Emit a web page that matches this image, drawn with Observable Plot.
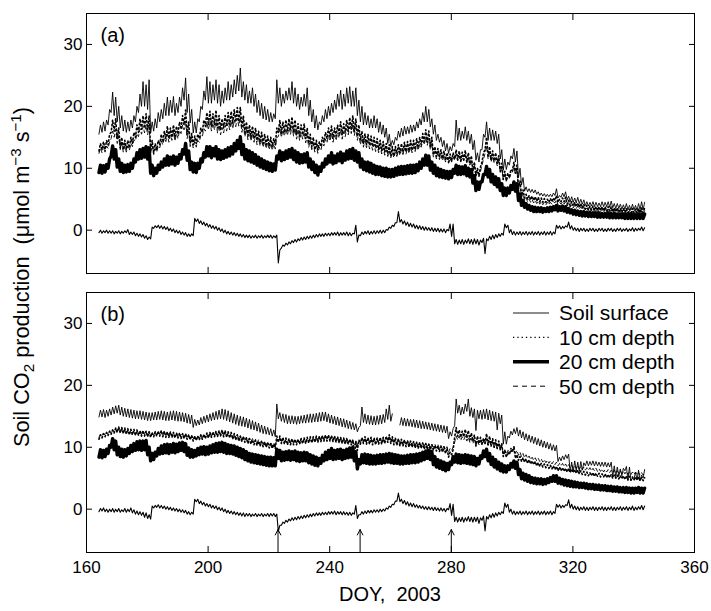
<!DOCTYPE html>
<html><head><meta charset="utf-8">
<script src="https://cdn.jsdelivr.net/npm/d3@7"></script>
<script src="https://cdn.jsdelivr.net/npm/@observablehq/plot@0.6"></script>
<style>
body{margin:0;background:#fff;}
#wrap{position:relative;width:711px;height:611px;overflow:hidden;font-family:"Liberation Sans",Arial,sans-serif;color:#000;background:#fff;}
#pa{position:absolute;left:0;top:0}
#pb{position:absolute;left:0;top:282px}
#ylab{position:absolute;left:22px;top:277px;transform:translate(-50%,-50%) rotate(-90deg);white-space:nowrap;font-size:21.7px;line-height:1;}
#ylab sub,#ylab sup{font-size:70%;line-height:0}
#overlay{position:absolute;left:0;top:0;pointer-events:none}
</style></head><body>
<div id="wrap">
 <div id="pa"></div><div id="pb"></div>
 <div id="ylab">Soil CO<sub>2</sub> production&nbsp; (μmol m<sup>−3</sup> s<sup>−1</sup>)</div>
 <svg id="overlay" width="711" height="611"></svg>
</div>
<script>
// ---------- tick values ----------
const xTicks = [160, 200, 240, 280, 320, 360];
const yTicks = [0, 10, 20, 30];
const legendLabels = ["Soil surface", "10 cm depth", "20 cm depth", "50 cm depth"];
const panelTags = ["(a)", "(b)"];
const arrowDays = [223, 250, 280];
const xTitle = "DOY,\u00a0 2003";
// days 164..343; "Day" values are the afternoon peak, "Night" values the early-morning value
const firstDay = 164, nDays = 180;

// ---------- panel (a) ----------
const aSurfDay = [
17.0,17.5,17.8,19.5,22.3,21.5,20.0,18.5,17.8,17.5,
17.8,18.5,20.0,22.0,24.0,23.5,24.3,17.5,18.0,19.0,
19.5,20.5,21.5,21.0,21.6,20.5,21.5,23.0,24.6,22.0,
19.5,17.5,18.0,20.0,22.5,24.8,24.0,23.5,24.3,23.5,
22.5,23.0,24.0,23.5,24.3,25.0,26.2,24.0,23.5,22.5,
23.0,22.0,21.0,20.5,20.0,19.5,19.0,18.8,24.3,23.0,
22.0,22.5,23.0,24.0,23.0,22.0,21.5,22.0,23.0,21.0,
19.5,18.5,17.5,18.5,19.5,20.0,20.5,21.0,22.0,22.6,
22.0,23.0,23.2,22.5,23.0,21.0,20.0,19.0,18.5,18.0,
18.5,18.0,17.5,17.0,16.5,15.5,14.5,15.0,16.0,16.5,
16.8,16.7,17.0,17.0,17.5,18.0,19.0,20.0,19.5,18.0,
17.0,15.5,15.0,14.5,14.0,13.5,14.0,17.8,16.5,16.0,
16.7,16.0,15.5,14.5,12.5,13.0,15.5,17.5,16.5,16.2,
16.0,15.5,13.0,11.5,11.0,12.0,13.2,12.8,10.0,8.5,
7.0,6.7,6.6,6.5,6.2,6.0,5.9,5.8,5.8,6.0,
6.7,5.6,6.0,6.2,5.5,5.4,5.2,5.3,5.0,4.9,
4.6,4.5,4.6,4.5,4.4,4.6,4.5,4.6,4.7,4.3,
4.3,4.2,4.1,4.3,4.0,4.2,4.0,4.3,4.6,4.5];
const aSurfNight = [
15.5,15.8,16.0,17.0,19.0,18.5,17.5,16.5,16.0,15.8,
16.0,16.5,17.5,19.0,20.0,20.0,19.5,15.7,16.0,16.5,
17.5,18.0,18.5,18.5,19.0,18.5,19.0,20.0,21.0,19.0,
17.3,15.7,15.7,17.5,19.5,21.0,20.5,20.5,21.0,20.5,
20.0,20.5,21.0,21.0,21.5,22.0,22.5,21.5,21.0,20.5,
20.5,20.0,19.0,18.5,18.0,17.8,17.5,17.5,18.0,20.5,
20.0,20.5,21.0,21.0,20.5,20.0,19.5,20.0,20.0,18.5,
17.5,16.5,16.2,17.0,17.5,18.0,18.5,19.0,19.5,20.0,
19.5,20.0,20.5,20.0,20.0,18.5,17.5,17.0,17.0,16.5,
16.5,16.5,15.8,15.5,15.0,14.0,13.5,13.8,14.5,15.0,
15.2,15.5,15.6,15.8,16.0,16.5,17.0,17.5,17.5,16.7,
15.5,14.5,14.2,13.5,12.8,12.4,12.8,13.5,14.5,14.5,
14.8,14.5,14.0,13.0,11.3,11.0,13.0,15.0,14.5,14.5,
14.5,14.0,11.5,9.7,9.8,10.5,11.5,11.0,8.5,7.3,
6.3,6.2,6.1,6.0,5.8,5.6,5.5,5.4,5.4,5.4,
5.6,5.2,5.3,5.4,4.9,4.6,4.5,4.4,4.3,4.2,
4.0,3.9,3.9,3.8,3.8,3.8,3.8,3.8,3.7,3.6,
3.5,3.5,3.4,3.4,3.3,3.3,3.3,3.2,3.3,3.3];
const a10Day = [
14.0,14.3,14.5,15.5,17.8,18.0,16.5,15.0,14.5,14.5,
15.0,15.8,17.0,18.0,18.5,18.8,18.5,14.5,14.0,14.5,
15.5,16.0,16.8,16.5,17.0,16.8,17.5,18.5,19.4,17.5,
15.6,15.2,15.5,16.5,17.8,19.0,19.2,18.8,19.4,18.5,
18.0,18.5,19.0,19.2,19.5,19.8,19.9,18.5,17.5,17.0,
16.8,16.5,16.0,15.8,15.5,15.2,15.0,14.8,16.5,17.8,
17.5,17.8,18.0,18.3,17.8,17.2,17.0,17.2,16.5,15.5,
15.0,14.5,14.3,15.0,15.8,16.5,16.8,16.5,17.0,17.5,
17.2,17.8,18.2,18.5,18.0,17.0,16.0,15.6,15.5,15.2,
15.0,14.8,14.5,14.3,14.0,13.8,13.5,13.5,13.8,14.0,
14.2,14.3,14.5,14.5,14.8,15.0,15.6,16.2,16.0,15.0,
13.5,13.2,13.0,12.8,12.5,12.3,12.5,13.0,12.8,12.6,
12.9,12.5,12.0,11.0,10.0,10.2,12.5,15.0,13.5,12.8,
12.5,12.0,10.8,9.5,9.2,9.8,11.0,10.5,8.0,6.5,
5.8,5.6,5.5,5.4,5.3,5.2,5.1,5.0,5.1,5.2,
5.6,5.0,5.2,5.3,4.8,4.6,4.5,4.4,4.3,4.2,
4.0,3.9,3.9,3.8,3.8,3.8,3.8,3.8,3.8,3.6,
3.6,3.5,3.5,3.5,3.4,3.5,3.4,3.5,3.6,3.6];
const a10Night = [
12.8,13.0,13.0,13.8,15.8,16.0,14.8,13.3,13.0,13.0,
13.3,14.0,15.0,15.8,16.3,16.5,16.2,12.8,12.5,13.0,
13.8,14.2,14.8,14.8,15.0,15.0,15.5,16.3,17.0,15.5,
14.0,13.8,14.0,14.8,15.8,16.8,17.0,16.8,17.0,16.5,
16.2,16.5,16.8,17.0,17.2,17.5,17.5,16.5,15.8,15.3,
15.0,14.8,14.5,14.2,14.0,13.8,13.6,13.5,13.8,15.8,
15.6,15.8,16.0,16.2,15.8,15.4,15.2,15.4,14.8,14.0,
13.5,13.0,13.0,13.5,14.2,14.8,15.0,14.8,15.2,15.6,
15.4,15.8,16.0,16.2,16.0,15.2,14.5,14.0,13.8,13.7,
13.5,13.3,13.0,12.8,12.6,12.3,12.0,12.0,12.3,12.5,
12.6,12.7,12.8,12.9,13.0,13.3,13.8,14.3,14.2,13.5,
12.2,11.9,11.8,11.6,11.3,11.0,11.2,11.5,11.4,11.2,
11.4,11.0,10.7,9.6,8.8,8.8,11.0,13.0,12.0,11.4,
11.2,10.8,9.5,8.2,8.0,8.5,9.6,9.2,6.8,5.6,
5.2,5.0,4.9,4.8,4.7,4.6,4.5,4.5,4.5,4.6,
4.8,4.5,4.6,4.6,4.2,4.0,3.9,3.8,3.7,3.6,
3.4,3.3,3.3,3.2,3.2,3.2,3.1,3.1,3.1,3.0,
3.0,2.9,2.9,2.9,2.8,2.8,2.8,2.8,2.8,2.8];
const a20Day = [
10.5,10.4,10.6,11.5,13.6,13.0,11.5,10.8,10.5,10.6,
10.8,11.5,12.5,13.0,13.2,13.5,13.3,10.5,10.0,10.5,
11.0,11.5,12.0,11.8,12.0,11.8,12.2,13.0,14.0,12.8,
11.0,10.8,10.8,11.5,12.5,13.5,13.5,13.2,13.5,13.0,
12.8,13.0,13.3,13.5,14.0,14.5,15.1,13.8,13.0,12.8,
12.5,12.2,11.8,11.5,11.2,11.0,10.8,10.7,12.0,12.8,
12.5,12.8,13.0,13.2,12.8,12.5,12.2,12.3,12.5,11.5,
11.0,10.5,10.2,10.8,11.5,12.0,12.5,12.0,12.3,12.6,
12.3,12.8,13.0,13.2,12.8,12.5,11.5,11.0,11.0,10.8,
10.5,10.3,10.2,10.0,10.0,9.8,9.8,10.0,10.2,10.3,
10.3,10.4,10.5,10.5,10.6,11.0,11.5,12.1,12.0,11.0,
10.5,10.0,9.8,9.6,9.5,9.5,9.8,10.5,10.3,10.2,
10.4,10.0,9.8,8.8,7.8,7.8,9.0,10.3,9.8,9.0,
8.6,8.3,7.5,6.8,6.8,7.2,7.8,7.5,5.8,4.8,
4.3,4.0,3.8,3.7,3.6,3.6,3.5,3.6,3.7,3.8,
4.0,3.8,3.9,3.8,3.5,3.3,3.2,3.1,3.0,3.0,
2.9,2.9,2.8,2.8,2.8,2.7,2.7,2.8,2.7,2.7,
2.6,2.6,2.6,2.6,2.6,2.6,2.5,2.6,2.6,2.6];
const a20Night = [
9.3,9.2,9.4,10.0,12.0,11.5,10.2,9.5,9.3,9.4,
9.5,10.0,11.0,11.5,11.6,11.8,11.5,9.2,8.8,9.2,
9.8,10.2,10.5,10.5,10.7,10.5,10.8,11.5,12.3,11.3,
9.8,9.4,9.3,10.0,11.0,11.8,12.0,11.7,12.0,11.5,
11.4,11.6,11.8,12.0,12.3,12.8,13.2,12.2,11.5,11.2,
11.0,10.8,10.5,10.2,10.0,9.8,9.6,9.5,9.7,11.5,
11.2,11.4,11.6,11.8,11.4,11.0,10.8,10.9,11.0,10.2,
9.8,9.3,8.9,9.5,10.2,10.7,11.0,10.7,10.9,11.2,
10.9,11.3,11.5,11.6,11.3,11.0,10.2,9.8,9.6,9.4,
9.2,9.0,9.0,8.8,8.7,8.6,8.6,8.7,8.9,9.0,
9.0,9.1,9.2,9.2,9.3,9.6,10.0,10.5,10.5,9.7,
9.2,8.8,8.6,8.5,8.4,8.3,8.5,9.2,9.0,9.0,
9.1,8.8,8.6,7.6,6.4,6.6,7.8,9.0,8.6,7.8,
7.4,7.0,6.4,5.6,5.6,6.0,6.6,6.3,4.8,4.0,
3.7,3.4,3.2,3.0,3.0,3.0,2.9,3.0,3.0,3.1,
3.3,3.1,3.2,3.1,2.9,2.8,2.6,2.5,2.4,2.3,
2.3,2.2,2.2,2.2,2.1,2.1,2.1,2.1,2.0,2.0,
2.0,2.0,2.0,1.9,1.9,1.9,1.9,1.9,1.9,1.9];
const a50Day = [
13.3,13.5,13.6,14.3,16.0,16.3,15.2,14.0,13.6,13.6,
14.0,14.6,15.6,16.4,16.8,17.0,16.8,13.6,13.2,13.6,
14.4,14.9,15.5,15.4,15.8,15.6,16.1,17.0,17.6,16.0,
14.6,14.3,14.5,15.3,16.4,17.4,17.6,17.3,17.6,17.0,
16.6,17.0,17.4,17.6,17.8,18.1,18.3,17.0,16.3,15.8,
15.6,15.3,14.9,14.7,14.4,14.2,14.0,13.9,15.0,16.4,
16.2,16.4,16.6,16.8,16.4,15.9,15.7,15.9,15.3,14.5,
14.0,13.6,13.4,14.0,14.7,15.3,15.6,15.3,15.7,16.2,
15.9,16.4,16.7,17.0,16.6,15.7,14.9,14.5,14.4,14.1,
13.9,13.7,13.5,13.3,13.0,12.8,12.6,12.6,12.8,13.0,
13.2,13.3,13.4,13.5,13.7,13.9,14.5,15.0,14.8,14.0,
12.7,12.4,12.2,12.0,11.8,11.6,11.8,12.2,12.0,11.8,
12.1,11.7,11.3,10.4,9.4,9.5,11.5,13.6,12.5,11.9,
11.6,11.2,10.1,8.9,8.6,9.1,10.2,9.8,7.4,5.9,
5.2,5.0,4.9,4.8,4.7,4.6,4.5,4.5,4.5,4.6,
4.9,4.5,4.6,4.6,4.3,4.1,4.0,3.9,3.8,3.7,
3.6,3.5,3.5,3.4,3.4,3.4,3.4,3.4,3.3,3.2,
3.2,3.1,3.1,3.1,3.0,3.1,3.0,3.1,3.1,3.1];
const a50Night = [
12.4,12.5,12.6,13.2,14.8,15.0,14.0,13.0,12.6,12.6,
12.9,13.5,14.4,15.1,15.5,15.7,15.4,12.5,12.2,12.6,
13.3,13.8,14.3,14.2,14.5,14.4,14.8,15.6,16.2,14.8,
13.5,13.3,13.4,14.2,15.1,16.0,16.2,16.0,16.2,15.7,
15.4,15.7,16.0,16.2,16.4,16.7,16.8,15.8,15.1,14.6,
14.4,14.2,13.8,13.6,13.4,13.2,13.0,12.9,13.1,15.1,
15.0,15.2,15.3,15.5,15.2,14.7,14.5,14.7,14.1,13.4,
13.0,12.6,12.4,12.9,13.6,14.1,14.4,14.2,14.5,14.9,
14.7,15.1,15.4,15.6,15.3,14.5,13.8,13.4,13.3,13.1,
12.9,12.7,12.5,12.3,12.1,11.9,11.7,11.7,11.9,12.1,
12.2,12.3,12.4,12.5,12.7,12.9,13.4,13.8,13.7,13.0,
11.8,11.5,11.4,11.2,11.0,10.8,11.0,11.3,11.2,11.0,
11.2,10.9,10.5,9.6,8.6,8.6,10.5,12.4,11.5,11.0,
10.8,10.4,9.3,8.1,7.9,8.4,9.4,9.0,6.6,5.3,
4.8,4.6,4.5,4.4,4.3,4.2,4.1,4.1,4.1,4.2,
4.4,4.1,4.2,4.2,3.9,3.7,3.6,3.5,3.4,3.3,
3.2,3.1,3.1,3.0,3.0,3.0,2.9,2.9,2.9,2.8,
2.8,2.7,2.7,2.7,2.6,2.6,2.6,2.6,2.6,2.6];
const aZeroNight = [
-0.4,-0.5,-0.4,-0.5,-0.5,-0.6,-0.5,-0.6,-0.5,-0.4,
-0.7,-0.7,-0.9,-1.0,-1.1,-1.3,-1.5,-1.4,0.3,0.4,
0.3,0.2,0.1,-0.1,-0.2,-0.4,-0.5,-0.7,-0.8,-1.0,
-1.0,-0.9,1.4,1.1,0.9,0.7,0.5,0.3,0.2,0.0,
-0.2,-0.4,-0.6,-0.7,-0.8,-0.9,-1.0,-1.1,-1.2,-1.2,
-1.3,-1.2,-1.3,-1.2,-1.3,-1.2,-1.2,-1.3,-1.2,-5.3,
-2.9,-2.6,-2.4,-2.2,-2.0,-1.9,-1.7,-1.6,-1.5,-1.4,
-1.3,-1.2,-1.1,-1.0,-1.0,-0.9,-0.9,-0.8,-0.8,-0.9,
-0.8,-0.8,-0.9,-0.9,-0.6,-1.9,-0.9,-0.7,-0.6,-0.7,
-0.6,-0.6,-0.5,-0.5,-0.4,0.0,0.3,0.6,1.2,1.3,
1.0,0.8,0.6,0.5,0.3,0.2,0.1,0.0,0.0,-0.1,
-0.2,-0.2,-0.3,-0.3,-0.4,-0.1,-1.0,-2.2,-2.3,-2.2,
-2.3,-2.1,-2.2,-2.3,-2.2,-2.4,-2.0,-3.8,-1.7,-1.5,
-1.4,-1.2,-1.0,-0.8,0.4,-0.4,-0.7,-0.8,-0.7,-0.8,
-0.7,-0.8,-0.7,-0.8,-0.7,-0.8,-0.7,-0.8,-0.7,-0.8,
-0.6,0.3,0.2,0.3,0.5,0.2,0.0,-0.1,-0.2,-0.1,
-0.2,-0.2,-0.1,-0.2,-0.2,-0.1,-0.2,-0.2,-0.1,-0.2,
-0.2,-0.1,-0.2,-0.1,-0.2,-0.1,-0.2,-0.1,0.0,-0.1];
const aZeroDay = [
0.0,-0.1,0.0,-0.1,-0.1,-0.2,-0.1,-0.2,-0.1,0.1,
-0.3,-0.3,-0.5,-0.6,-0.7,-0.9,-1.1,0.5,0.7,0.8,
0.7,0.6,0.5,0.3,0.2,0.0,-0.1,-0.3,-0.4,-0.6,
-0.6,1.9,1.8,1.5,1.3,1.1,0.9,0.7,0.6,0.4,
0.2,0.0,-0.2,-0.3,-0.4,-0.5,-0.6,-0.7,-0.8,-0.8,
-0.9,-0.8,-0.9,-0.8,-0.9,-0.8,-0.8,-0.9,-0.8,-3.2,
-2.4,-2.1,-1.9,-1.7,-1.5,-1.4,-1.2,-1.1,-1.0,-0.9,
-0.8,-0.7,-0.6,-0.6,-0.5,-0.5,-0.4,-0.4,-0.3,-0.4,
-0.4,-0.3,-0.4,-0.5,0.8,-0.8,-0.3,-0.2,-0.1,-0.2,
-0.1,-0.1,0.0,0.0,0.1,0.5,0.8,1.2,3.0,1.7,
1.5,1.3,1.1,1.0,0.8,0.7,0.6,0.5,0.4,0.4,
0.3,0.3,0.2,0.2,0.1,1.0,1.0,-1.5,-1.6,-1.5,
-1.6,-1.4,-1.5,-1.4,-1.5,-1.6,-1.3,-1.4,-1.0,-0.8,
-0.7,-0.6,-0.5,1.0,0.8,0.1,-0.2,-0.3,-0.2,-0.3,
-0.2,-0.3,-0.2,-0.3,-0.2,-0.3,-0.2,-0.3,-0.2,-0.3,
0.8,0.7,0.6,0.7,1.3,0.7,0.4,0.3,0.3,0.3,
0.2,0.3,0.3,0.2,0.3,0.3,0.2,0.3,0.3,0.2,
0.3,0.3,0.2,0.3,0.2,0.4,0.3,0.3,0.5,0.4];

// ---------- panel (b) ----------
const bSurfNight = [
14.9,14.9,14.8,15.0,15.2,15.4,15.5,15.2,15.0,14.9,
14.8,14.7,14.6,14.6,14.5,14.4,14.3,14.3,14.4,14.4,
14.5,14.4,14.3,14.3,14.4,14.3,14.2,14.2,14.1,13.9,
13.8,13.2,13.5,13.6,13.8,14.0,14.1,14.3,14.4,14.5,
14.6,14.5,14.3,14.1,13.9,13.7,13.5,13.4,13.3,13.1,
12.9,12.8,12.6,12.4,12.2,12.1,12.0,11.8,11.7,14.6,
14.2,14.0,13.8,13.8,13.8,13.7,13.8,13.9,13.9,14.0,
14.0,14.1,14.1,14.2,14.3,14.1,13.9,13.8,13.6,13.5,
13.3,13.2,13.0,12.9,12.8,12.5,13.5,14.0,13.8,13.7,
13.6,13.6,13.7,13.8,14.0,14.5,14.2,null,null,13.6,
13.5,13.4,13.4,13.3,13.2,13.1,13.0,13.0,12.9,12.8,
12.7,12.6,12.5,12.4,12.3,11.4,11.8,13.5,15.5,15.2,
15.4,15.8,15.0,14.8,12.7,14.6,14.5,14.6,14.4,14.3,
14.2,12.8,13.8,10.5,10.5,11.5,12.0,12.2,11.8,11.5,
11.2,11.0,10.8,10.6,10.4,10.2,10.0,9.9,9.7,9.5,
9.4,7.7,7.8,8.0,8.2,6.0,6.0,6.2,6.1,6.3,
7.0,7.0,7.1,7.0,7.0,6.9,6.9,6.8,6.8,5.2,
5.2,5.3,5.4,6.2,4.6,4.6,4.8,4.7,4.6,5.0];
const bSurfDay = [
16.0,16.1,16.0,16.2,16.5,16.7,16.8,16.5,16.3,16.2,
16.1,16.0,15.9,15.9,15.8,15.7,15.6,15.6,15.7,15.8,
15.9,15.8,15.7,15.8,15.9,15.8,15.7,15.6,15.5,15.3,
15.2,14.5,14.4,14.8,15.0,15.2,15.4,15.6,15.8,16.0,
16.2,16.1,15.9,15.6,15.4,15.2,15.0,14.9,14.7,14.5,
14.3,14.1,13.9,13.6,13.4,13.2,13.0,12.8,17.0,15.6,
15.4,15.3,15.1,15.1,15.0,15.0,15.1,15.2,15.3,15.4,
15.4,15.5,15.6,15.7,15.7,15.4,15.2,15.0,14.9,14.7,
14.6,14.4,14.2,14.0,13.8,13.2,16.5,15.4,15.2,15.1,
15.0,15.1,15.2,15.3,16.2,16.8,15.4,null,null,14.8,
14.7,14.6,14.5,14.5,14.4,14.3,14.2,14.1,14.0,13.9,
13.8,13.7,13.6,13.5,13.4,12.5,13.0,17.8,16.8,16.5,
17.0,17.8,16.4,16.2,16.0,16.0,16.1,16.2,16.0,15.8,
15.7,15.5,15.2,12.5,11.8,12.6,13.0,13.2,12.8,12.5,
12.2,12.0,11.8,11.6,11.4,11.2,11.0,10.8,10.6,10.4,
10.3,8.4,8.6,8.8,8.9,7.6,7.8,7.6,7.7,7.5,
7.8,7.7,7.8,7.7,7.6,7.6,7.6,7.5,7.6,7.0,
6.8,6.5,6.6,6.9,6.8,5.0,6.0,6.3,5.5,6.4];
const b10Night = [
11.3,11.5,11.7,11.9,12.1,12.3,12.4,12.3,12.2,12.1,
12.0,12.0,11.9,11.9,11.8,11.8,11.7,11.6,11.7,11.8,
11.8,11.7,11.6,11.6,11.6,11.5,11.5,11.4,11.4,11.3,
11.2,11.0,11.1,11.2,11.3,11.4,11.5,11.6,11.7,11.7,
11.8,11.7,11.6,11.5,11.3,11.2,11.0,10.9,10.8,10.6,
10.5,10.4,10.3,10.2,10.1,10.0,9.9,9.8,9.8,10.8,
10.6,10.5,10.4,10.4,10.4,10.4,10.5,10.6,10.6,10.7,
10.7,10.8,10.8,10.9,11.0,11.0,11.0,10.9,10.8,10.7,
10.6,10.5,10.5,10.4,8.4,9.5,10.5,10.6,10.5,10.5,
10.4,10.4,10.5,10.5,10.6,10.8,10.6,10.4,10.3,10.2,
10.2,10.1,10.0,10.0,9.9,9.8,9.8,9.7,9.6,9.6,
9.5,9.4,9.3,9.2,9.0,8.4,8.8,11.6,11.8,11.6,
11.7,11.5,11.2,11.0,10.2,10.6,10.5,10.6,10.4,10.2,
10.0,9.8,9.6,8.5,8.4,8.8,9.2,8.2,7.9,7.7,
7.6,7.4,7.3,7.2,7.0,6.9,6.8,6.7,6.6,6.5,
6.4,6.2,6.2,6.1,6.0,5.9,5.9,5.8,5.7,5.6,
5.5,5.4,5.4,5.3,5.3,5.2,5.2,5.1,5.1,5.0,
5.0,4.9,4.9,4.8,4.8,4.7,4.7,4.7,4.6,4.6];
const b10Day = [
12.0,12.2,12.4,12.6,12.8,13.1,13.3,13.2,13.1,13.0,
12.9,12.9,12.8,12.7,12.7,12.6,12.5,12.4,12.5,12.6,
12.7,12.6,12.5,12.5,12.4,12.3,12.3,12.2,12.2,12.0,
11.9,11.8,11.8,12.0,12.1,12.3,12.4,12.5,12.6,12.7,
12.8,12.7,12.5,12.4,12.2,12.0,11.8,11.7,11.5,11.4,
11.2,11.1,11.0,10.9,10.8,10.7,10.6,10.5,11.8,11.8,
11.6,11.5,11.4,11.4,11.3,11.3,11.4,11.5,11.6,11.7,
11.7,11.8,11.8,11.9,12.0,12.0,11.9,11.8,11.7,11.6,
11.5,11.4,11.3,11.2,11.0,11.2,11.6,11.7,11.6,11.6,
11.5,11.5,11.6,11.6,11.8,12.0,11.7,11.5,11.4,11.3,
11.2,11.1,11.0,10.9,10.8,10.7,10.7,10.6,10.5,10.4,
10.3,10.2,10.1,10.0,9.8,9.2,9.6,13.2,12.8,12.6,
12.9,12.7,12.3,12.0,11.8,11.6,11.5,12.2,11.8,11.4,
11.2,11.0,10.6,9.5,9.2,9.6,10.0,8.8,8.5,8.3,
8.1,8.0,7.8,7.7,7.5,7.4,7.3,7.2,7.1,7.0,
6.9,6.8,6.7,6.6,6.6,6.5,6.4,6.3,6.2,6.1,
6.0,5.9,5.9,5.8,5.8,5.7,5.7,5.6,5.6,5.5,
5.5,5.4,5.4,5.3,5.3,5.2,5.2,5.2,5.1,5.1];
const b20Night = [
8.4,8.3,8.5,9.0,10.0,9.6,8.8,8.5,8.4,8.6,
9.0,9.3,9.5,9.6,9.5,9.6,8.8,7.8,8.0,8.6,
8.9,9.0,9.1,9.0,9.2,9.1,9.3,9.5,9.3,8.7,
8.4,8.4,8.6,8.8,8.9,8.8,8.9,9.1,9.2,9.2,
9.3,9.2,9.0,9.0,8.9,8.7,8.5,8.3,8.0,7.8,
7.6,7.5,7.4,7.3,7.2,7.1,7.0,7.0,7.0,8.2,
7.8,7.9,8.0,7.9,8.0,7.8,7.7,7.8,7.8,7.5,
7.3,7.1,7.0,7.4,7.8,8.0,8.2,8.0,8.1,8.2,
8.0,8.2,8.3,8.4,7.8,6.5,7.3,7.5,7.4,7.3,
7.3,7.3,7.4,7.4,7.5,7.6,7.5,7.4,7.4,7.3,
7.3,7.4,7.4,7.5,7.5,7.6,7.8,8.0,8.2,8.0,
7.2,6.8,6.6,6.4,6.2,6.4,7.2,7.6,7.5,7.4,
7.5,7.4,7.3,7.2,7.0,7.3,8.2,8.5,7.8,7.2,
6.8,6.5,6.2,6.0,6.0,6.4,6.8,6.6,5.6,4.9,
4.7,4.5,4.3,4.2,4.1,4.1,4.0,4.1,4.3,4.5,
4.5,4.2,4.1,3.9,3.8,3.7,3.6,3.6,3.5,3.5,
3.4,3.3,3.3,3.2,3.2,3.1,3.1,3.0,3.0,2.9,
2.9,2.8,2.8,2.7,2.7,2.6,2.6,2.7,2.6,2.6];
const b20Day = [
9.6,9.5,9.7,10.3,11.4,11.0,10.0,9.7,9.6,9.8,
10.3,10.6,10.9,11.0,11.0,11.1,10.0,9.0,9.2,9.8,
10.2,10.4,10.5,10.4,10.6,10.5,10.7,10.8,10.6,9.9,
9.6,9.5,9.8,10.0,10.1,10.0,10.2,10.4,10.6,10.7,
10.8,10.6,10.4,10.3,10.2,10.0,9.8,9.6,9.3,9.0,
8.9,8.8,8.7,8.6,8.5,8.4,8.4,8.3,9.7,9.5,
9.2,9.3,9.4,9.3,9.4,9.2,9.1,9.2,9.1,8.8,
8.6,8.4,8.2,8.7,9.2,9.5,9.8,9.5,9.6,9.7,
9.5,9.7,9.9,10.0,9.3,8.0,8.8,8.9,8.8,8.7,
8.6,8.7,8.8,8.8,8.9,9.0,8.9,8.8,8.7,8.6,
8.6,8.7,8.8,8.8,8.9,9.0,9.2,9.4,9.5,9.3,
8.5,8.0,7.8,7.6,7.4,7.6,8.5,8.9,8.8,8.7,
8.8,8.7,8.6,8.5,8.2,8.6,9.4,9.7,9.0,8.4,
8.0,7.6,7.3,7.0,7.0,7.4,7.8,7.6,6.4,5.8,
5.6,5.4,5.1,5.0,4.9,4.9,4.8,4.9,5.1,5.4,
5.4,5.0,4.8,4.7,4.6,4.5,4.4,4.3,4.2,4.2,
4.1,4.0,4.0,3.9,3.9,3.8,3.8,3.7,3.7,3.6,
3.6,3.5,3.5,3.5,3.4,3.4,3.4,3.5,3.4,3.4];
const b50Night = [
11.6,11.8,11.9,12.0,12.2,12.4,12.5,12.5,12.4,12.3,
12.2,12.2,12.1,12.1,12.0,12.0,11.9,11.8,11.9,12.0,
12.0,11.9,11.9,11.8,11.8,11.7,11.7,11.6,11.6,11.5,
11.4,11.3,11.3,11.4,11.5,11.6,11.7,11.8,11.9,11.9,
12.0,11.9,11.8,11.7,11.6,11.4,11.3,11.2,11.1,11.0,
10.9,10.8,10.7,10.6,10.5,10.4,10.3,10.2,10.2,10.9,
10.8,10.8,10.7,10.7,10.7,10.7,10.8,10.8,10.9,11.0,
11.0,11.1,11.1,11.2,11.3,11.3,11.2,11.2,11.1,11.0,
10.9,10.9,10.8,10.7,10.2,10.3,10.8,10.9,10.9,10.8,
10.8,10.8,10.8,10.9,11.0,11.1,11.0,10.8,10.7,10.6,
10.6,10.5,10.5,10.4,10.3,10.3,10.2,10.2,10.1,10.0,
10.0,9.9,9.8,9.7,9.6,9.2,9.5,10.8,11.2,11.1,
11.2,11.0,10.8,10.6,10.3,10.4,10.4,10.5,10.3,10.1,
10.0,9.8,9.6,9.0,8.9,9.3,9.6,9.0,8.7,8.5,
8.3,8.2,8.0,7.9,7.8,7.7,7.6,7.5,7.4,7.3,
7.2,7.0,7.0,6.9,6.8,6.7,6.6,6.6,6.5,6.4,
6.3,6.3,6.2,6.2,6.1,6.1,6.0,6.0,5.9,5.9,
5.8,5.8,5.7,5.7,5.6,5.6,5.6,5.5,5.5,5.5];
const b50Day = [
12.1,12.3,12.4,12.6,12.8,13.0,13.1,13.0,12.9,12.8,
12.8,12.7,12.7,12.6,12.6,12.5,12.5,12.3,12.4,12.5,
12.6,12.5,12.4,12.4,12.3,12.3,12.2,12.2,12.1,12.0,
11.9,11.8,11.8,11.9,12.0,12.1,12.2,12.3,12.4,12.5,
12.6,12.5,12.4,12.3,12.1,12.0,11.8,11.7,11.6,11.5,
11.4,11.3,11.2,11.1,11.0,10.9,10.8,10.7,11.2,11.5,
11.4,11.3,11.3,11.2,11.2,11.2,11.3,11.4,11.4,11.5,
11.5,11.6,11.7,11.8,11.8,11.8,11.7,11.7,11.6,11.5,
11.4,11.4,11.3,11.2,11.0,11.0,11.4,11.5,11.4,11.4,
11.3,11.3,11.4,11.4,11.6,11.7,11.5,11.3,11.2,11.1,
11.1,11.0,11.0,10.9,10.8,10.8,10.7,10.7,10.6,10.5,
10.5,10.4,10.3,10.2,10.1,9.8,10.0,11.8,11.8,11.7,
11.8,11.6,11.4,11.2,11.0,11.0,11.0,11.3,11.0,10.8,
10.6,10.4,10.2,9.6,9.5,9.9,10.2,9.5,9.2,9.0,
8.8,8.6,8.4,8.3,8.2,8.1,8.0,7.9,7.8,7.7,
7.6,7.4,7.4,7.3,7.2,7.1,7.0,7.0,6.9,6.8,
6.7,6.7,6.6,6.6,6.5,6.5,6.4,6.4,6.3,6.3,
6.2,6.2,6.1,6.1,6.0,6.0,6.0,5.9,5.9,5.9];
const bZeroNight = [
-0.4,-0.3,-0.4,-0.5,-0.4,-0.5,-0.4,-0.5,-0.4,-0.5,
-0.4,-0.6,-0.8,-0.9,-1.0,-1.3,-1.5,-1.6,0.2,0.3,
0.2,0.1,0.0,-0.1,-0.2,-0.3,-0.4,-0.5,-0.6,-0.8,
-0.9,-0.8,1.2,0.9,0.7,0.5,0.4,0.2,0.1,-0.1,
-0.2,-0.4,-0.6,-0.7,-0.8,-0.9,-1.0,-1.1,-1.2,-1.1,
-1.2,-1.1,-1.2,-1.1,-1.2,-1.1,-1.2,-1.1,-1.2,-3.6,
-2.6,-2.3,-2.1,-1.9,-1.8,-1.7,-1.6,-1.5,-1.4,-1.3,
-1.2,-1.1,-1.0,-1.0,-0.9,-0.9,-0.8,-0.8,-0.9,-0.8,
-0.9,-0.9,-1.0,-1.0,-0.8,-1.5,-0.9,-0.8,-0.7,-0.6,
-0.6,-0.5,-0.5,-0.4,-0.3,0.0,0.3,0.7,1.3,1.2,
0.9,0.7,0.5,0.4,0.3,0.2,0.1,0.0,-0.1,-0.1,
-0.2,-0.2,-0.3,-0.3,-0.4,-0.1,-1.0,-2.0,-2.1,-2.0,
-2.1,-1.9,-2.0,-2.1,-2.0,-2.3,-1.8,-3.5,-1.6,-1.4,
-1.3,-1.1,-0.9,-0.7,0.3,-0.5,-0.8,-0.9,-0.8,-0.9,
-0.8,-0.9,-0.8,-0.9,-0.8,-0.9,-0.8,-0.9,-0.8,-0.9,
-0.7,0.3,0.2,0.3,0.6,0.2,0.0,-0.1,-0.2,-0.1,
-0.2,-0.2,-0.1,-0.2,-0.2,-0.1,-0.2,-0.2,-0.1,-0.2,
-0.2,-0.1,-0.2,-0.1,-0.2,-0.1,-0.2,-0.1,0.0,-0.1];
const bZeroDay = [
0.1,0.2,0.0,0.0,0.1,0.0,0.1,-0.1,0.1,0.0,
0.2,-0.1,-0.3,-0.4,-0.5,-0.6,-0.9,0.5,0.6,0.7,
0.6,0.5,0.4,0.3,0.2,0.1,0.0,-0.1,-0.2,-0.4,
-0.5,1.6,1.6,1.3,1.1,0.9,0.8,0.6,0.5,0.3,
0.2,0.0,-0.2,-0.3,-0.4,-0.5,-0.6,-0.6,-0.7,-0.7,
-0.8,-0.7,-0.8,-0.7,-0.8,-0.7,-0.7,-0.7,-0.8,-2.6,
-2.1,-1.8,-1.6,-1.4,-1.3,-1.2,-1.1,-1.0,-0.9,-0.8,
-0.7,-0.6,-0.6,-0.5,-0.5,-0.4,-0.4,-0.3,-0.4,-0.4,
-0.4,-0.5,-0.5,-0.6,0.6,-0.9,-0.4,-0.3,-0.2,-0.2,
-0.1,-0.1,0.0,0.0,0.2,0.5,0.8,1.3,2.6,1.6,
1.4,1.2,1.0,0.9,0.7,0.6,0.5,0.4,0.4,0.3,
0.3,0.2,0.2,0.1,0.1,0.9,0.8,-1.3,-1.4,-1.3,
-1.4,-1.2,-1.3,-1.3,-1.3,-1.4,-1.1,-1.2,-0.9,-0.7,
-0.6,-0.5,-0.4,1.0,0.8,0.0,-0.3,-0.4,-0.3,-0.4,
-0.3,-0.4,-0.3,-0.4,-0.3,-0.4,-0.3,-0.4,-0.3,-0.4,
0.8,0.7,0.6,0.7,1.5,0.8,0.5,0.4,0.3,0.4,
0.3,0.3,0.4,0.3,0.3,0.4,0.3,0.3,0.4,0.3,
0.3,0.4,0.3,0.4,0.3,0.5,0.3,0.4,0.6,0.5];

// ---------- build tables ----------
const problems = [];
function series(name, night, day) {
  if (night.length !== nDays || day.length !== nDays) problems.push(name + ":" + night.length + "/" + day.length);
  const out = [];
  for (let i = 0; i < nDays; i++) {
    out.push({t: firstDay + i + 0.1, v: night[i]});
    out.push({t: firstDay + i + 0.6, v: day[i]});
  }
  return out;
}
const A = {
  s: series("aS", aSurfNight, aSurfDay), d10: series("a10", a10Night, a10Day),
  d20: series("a20", a20Night, a20Day), d50: series("a50", a50Night, a50Day),
  z: series("aZ", aZeroNight, aZeroDay)
};
const B = {
  s: series("bS", bSurfNight, bSurfDay), d10: series("b10", b10Night, b10Day),
  d20: series("b20", b20Night, b20Day), d50: series("b50", b50Night, b50Day),
  z: series("bZ", bZeroNight, bZeroDay)
};

const FONT = '"Liberation Sans", Arial, sans-serif';
const styles = {
  surface: {stroke: "black", strokeWidth: 0.9},
  d10: {stroke: "black", strokeWidth: 1.6, strokeDasharray: "1.4,2.6"},
  d20: {stroke: "black", strokeWidth: 3.4},
  d50: {stroke: "black", strokeWidth: 0.9, strokeDasharray: "4,3"},
  zero: {stroke: "black", strokeWidth: 1.1}
};

function panel(P, o) {
  return Plot.plot({
    width: 711, height: o.height,
    marginLeft: 86, marginRight: 17, marginTop: o.mt, marginBottom: o.mb,
    style: {fontFamily: FONT, fontSize: "17px", background: "transparent", overflow: "visible", color: "black"},
    x: {domain: [160, 360]},
    y: {domain: [-7, 35]},
    marks: [
      Plot.line(P.z, {x: "t", y: "v", ...styles.zero}),
      Plot.line(P.d20, {x: "t", y: "v", ...styles.d20}),
      Plot.line(P.d50, {x: "t", y: "v", ...styles.d50}),
      Plot.line(P.d10, {x: "t", y: "v", ...styles.d10}),
      Plot.line(P.s, {x: "t", y: "v", ...styles.surface}),
      ...(o.extra || []),
      Plot.frame({stroke: "black", strokeWidth: 1}),
      Plot.axisY({anchor: "left", ticks: yTicks, tickSize: -6, tickPadding: 10, label: null, fontSize: 17}),
      Plot.axisY({anchor: "right", ticks: yTicks, tickSize: -6, tickFormat: () => "", label: null}),
      Plot.axisX({anchor: "top", ticks: xTicks, tickSize: -6, tickFormat: () => "", label: null}),
      Plot.axisX({anchor: "bottom", ticks: xTicks, tickSize: -6, tickPadding: 14,
                  tickFormat: o.xlabels ? (d => String(d)) : (() => ""), label: null, fontSize: 17}),
      Plot.text([o.tag], {frameAnchor: "top-left", dx: 14, dy: 22, text: d => d,
                          textAnchor: "start", lineAnchor: "middle", fontSize: 20})
    ]
  });
}

document.getElementById("pa").appendChild(panel(A, {height: 282, mt: 13, mb: 9, tag: panelTags[0], xlabels: false}));
document.getElementById("pb").appendChild(panel(B, {height: 329, mt: 10, mb: 59, tag: panelTags[1], xlabels: true,
  extra: [Plot.arrow(arrowDays, {x1: d => d, x2: d => d, y1: -6.95, y2: -3.3, stroke: "black",
                                 strokeWidth: 1, headLength: 9, headAngle: 55})]}));

// ---------- legend, x title ----------
const ov = d3.select("#overlay");
const legendStyle = [styles.surface, {stroke: "black", strokeWidth: 1.3, strokeDasharray: "1.3,3"}, {stroke: "black", strokeWidth: 3.4}, {stroke: "black", strokeWidth: 1, strokeDasharray: "5,4"}];
legendLabels.forEach((lab, i) => {
  const y = 313 + i * 24.4;
  const st = legendStyle[i];
  ov.append("line").attr("x1", 513).attr("x2", 549).attr("y1", y).attr("y2", y)
    .attr("stroke", st.stroke).attr("stroke-width", st.strokeWidth)
    .attr("stroke-dasharray", st.strokeDasharray || null);
  ov.append("text").attr("x", 559).attr("y", y).attr("dy", "0.35em")
    .attr("font-family", FONT).attr("font-size", 21).text(lab);
});
ov.append("text").attr("x", 390).attr("y", 594).attr("dy", "0.35em").attr("text-anchor", "middle")
  .attr("font-family", FONT).attr("font-size", 20).text(xTitle);
if (problems.length) ov.append("text").attr("x", 100).attr("y", 600).attr("fill", "red").attr("font-size", 12).text(problems.join(" "));
</script>
</body></html>
